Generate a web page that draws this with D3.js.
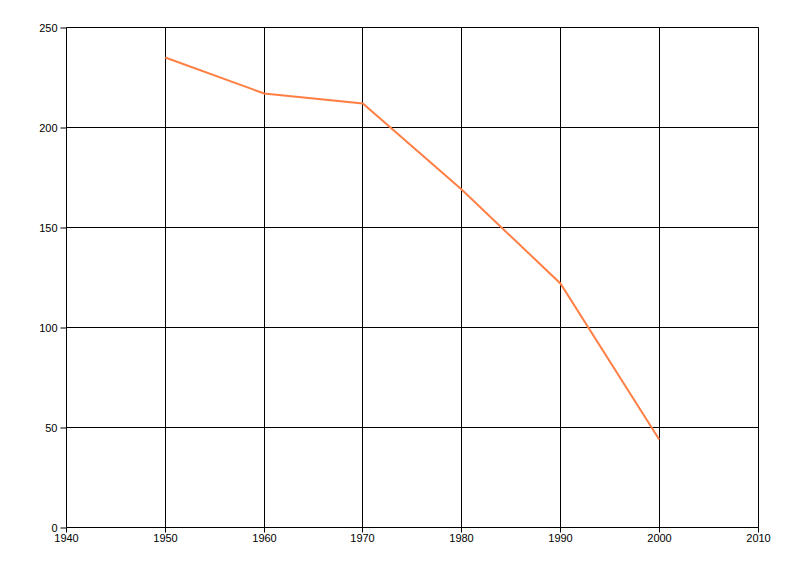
<!DOCTYPE html>
<html><head><meta charset="utf-8">
<script src="https://cdn.jsdelivr.net/npm/d3@7"></script>
<style>body{margin:0;background:#fff}svg{display:block}text{font-family:"Liberation Sans",Arial,sans-serif;font-size:11px;fill:#000}</style>
</head><body><svg id="c" width="800" height="576"></svg>
<script>
const years = [1950, 1960, 1970, 1980, 1990, 2000];
const values = [235, 217, 212, 169, 122, 44];
const xTicks = [1940, 1950, 1960, 1970, 1980, 1990, 2000, 2010];
const yTicks = [0, 50, 100, 150, 200, 250];

const svg = d3.select("#c");
const x = d3.scaleLinear().domain([1940, 2010]).range([66.5, 758]);
const y = d3.scaleLinear().domain([0, 250]).range([527.5, 27.5]);
const px = d => Math.floor(x(d)) + 0.5;

const g = svg.append("g");
g.selectAll("line.v").data(xTicks).join("line")
  .attr("x1", px).attr("x2", px)
  .attr("y1", y(250)).attr("y2", y(0)).attr("stroke", "#000");
g.selectAll("line.h").data(yTicks).join("line")
  .attr("y1", d => y(d)).attr("y2", d => y(d))
  .attr("x1", px(1940)).attr("x2", px(2010)).attr("stroke", "#000");

const xa = svg.append("g").attr("transform", `translate(0,${y(0)})`)
  .call(d3.axisBottom(x).tickValues(xTicks).tickFormat(d3.format("d")).tickSize(5).tickPadding(2));
xa.selectAll(".tick").attr("transform", d => `translate(${px(d)},0)`);
const ya = svg.append("g").attr("transform", `translate(${px(1940)},0)`)
  .call(d3.axisLeft(y).tickValues(yTicks).tickSize(6).tickPadding(3));
[xa, ya].forEach(a => { a.select(".domain").remove(); a.selectAll("line").attr("stroke", "#000"); a.selectAll("text").attr("fill", "#000").style("font-size", "11px").style("font-family", "'Liberation Sans', Arial, sans-serif"); });

svg.append("path").datum(years.map((d, i) => [d, values[i]]))
  .attr("fill", "none").attr("stroke", "#ff7f45").attr("stroke-width", 2)
  .attr("d", d3.line().x(d => x(d[0])).y(d => y(d[1])));
</script></body></html>
